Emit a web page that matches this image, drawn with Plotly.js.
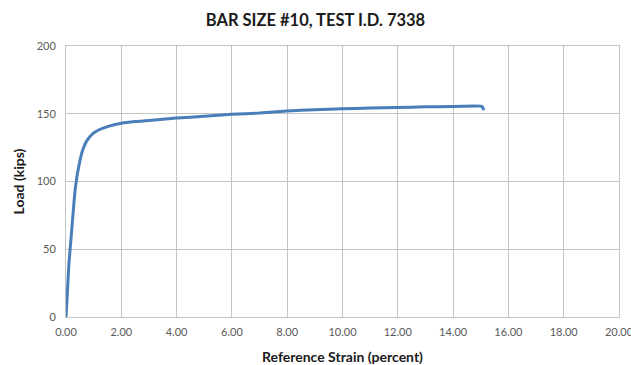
<!DOCTYPE html>
<html>
<head>
<meta charset="utf-8">
<script src="https://cdn.plot.ly/plotly-3.0.1.min.js"></script>
<style>html,body{margin:0;padding:0;background:#fff;overflow:hidden;}#chart{width:631px;height:365px;}</style>
</head>
<body>
<div id="chart"></div>
<script>
const strainPercent = [0, 0.05, 0.10, 0.17, 0.25, 0.32, 0.39, 0.47, 0.60, 0.75, 0.95, 1.18, 1.50, 2.00, 2.50, 3.00, 4.00, 5.00, 6.00, 7.00, 8.00, 9.00, 10.00, 11.00, 12.00, 13.00, 14.00, 14.80, 15.00, 15.08, 15.10];
const loadKips = [0, 18, 38, 55, 75, 92, 103, 112, 123, 130, 135, 138, 140.5, 143, 144.3, 145, 146.8, 148.2, 149.6, 150.5, 152, 153, 153.7, 154.2, 154.6, 155.1, 155.4, 155.7, 155.6, 154.5, 152.5];
const xTickVals = [0, 2, 4, 6, 8, 10, 12, 14, 16, 18, 20];
const xTickText = ["0.00", "2.00", "4.00", "6.00", "8.00", "10.00", "12.00", "14.00", "16.00", "18.00", "20.00"];
const yTickVals = [0, 50, 100, 150, 200];

const trace = {
  x: strainPercent, y: loadKips, type: 'scatter', mode: 'lines',
  line: {color: '#4a7ebb', width: 3, shape: 'spline', smoothing: 0.3},
  hoverinfo: 'skip'
};
const gridC = '#c4c4c4';
const layout = {
  width: 631, height: 365,
  margin: {l: 66, r: 12, t: 46, b: 48},
  paper_bgcolor: '#fff', plot_bgcolor: '#fff',
  showlegend: false,
  font: {family: 'Lato, "Open Sans", sans-serif', color: '#595959', size: 11},
  title: {text: '<b>BAR SIZE #10, TEST I.D. 7338</b>', x: 0.5, xanchor: 'center', y: 0.945, yanchor: 'middle',
          font: {family: 'Lato, sans-serif', size: 16.5, color: '#1a1a1a'}},
  xaxis: {
    range: [0, 20], tickvals: xTickVals, ticktext: xTickText,
    showgrid: true, gridcolor: gridC, gridwidth: 1,
    showline: true, linecolor: gridC, linewidth: 1, mirror: true,
    zeroline: false, ticks: '', ticklen: 0, ticklabelstandoff: 5, ticklabeloverflow: 'allow',
    tickfont: {size: 11, color: '#595959'},
    title: {text: '<b>Reference Strain (percent)</b>', standoff: 14, font: {family: 'Lato, sans-serif', size: 14, color: '#1a1a1a'}}
  },
  yaxis: {
    range: [0, 200], tickvals: yTickVals,
    showgrid: true, gridcolor: gridC, gridwidth: 1,
    showline: true, linecolor: gridC, linewidth: 1, mirror: true,
    zeroline: false, ticks: '', ticklen: 0, ticklabelstandoff: 7,
    tickfont: {size: 11, color: '#595959'},
    title: {text: '<b>Load (kips)</b>', standoff: 8, font: {family: 'Lato, sans-serif', size: 14, color: '#1a1a1a'}}
  }
};
Plotly.newPlot('chart', [trace], layout, {staticPlot: true, displayModeBar: false});
</script>
</body>
</html>
